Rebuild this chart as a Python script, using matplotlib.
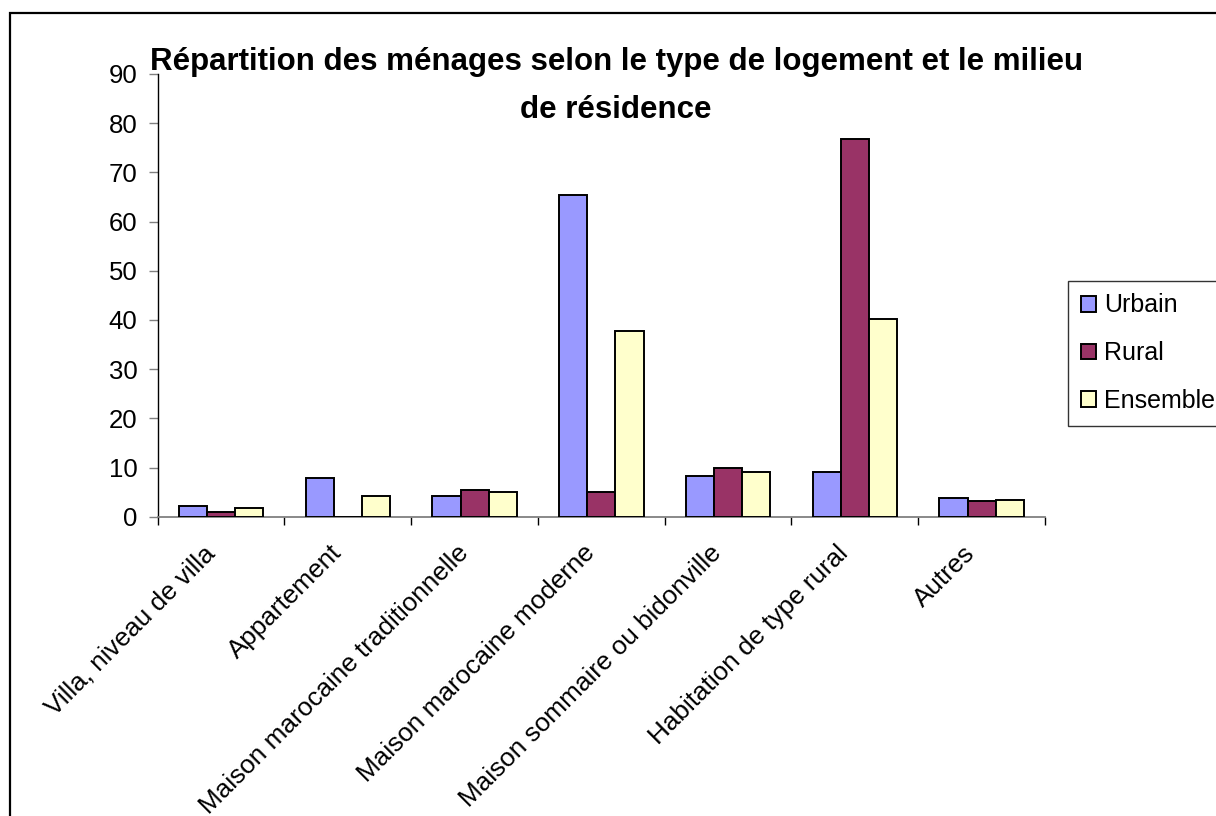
import matplotlib
matplotlib.use("Agg")
import matplotlib.pyplot as plt
import matplotlib.transforms as mtrans
import numpy as np
from matplotlib.patches import Rectangle

plt.rcParams['font.family'] = ['Liberation Sans', 'DejaVu Sans']

categories = ["Villa, niveau de villa", "Appartement", "Maison marocaine traditionnelle",
              "Maison marocaine moderne", "Maison sommaire ou bidonville",
              "Habitation de type rural", "Autres"]
urbain = [2.1, 7.8, 4.2, 65.4, 8.2, 9.1, 3.8]
rural = [1.0, 0.0, 5.4, 5.0, 9.9, 76.7, 3.1]
ensemble = [1.7, 4.2, 5.0, 37.7, 9.1, 40.2, 3.4]
series_names = ["Urbain", "Rural", "Ensemble"]
colors = ["#9999FF", "#993366", "#FFFFCC"]

W, H = 1216, 816
fig = plt.figure(figsize=(W / 100, H / 100), dpi=100)

# plot area in pixel coords (left, top, right, bottom)
l, t, r, b = 157.7, 73.9, 1045, 516.7
ax = fig.add_axes([l / W, 1 - b / H, (r - l) / W, (b - t) / H])

x = np.arange(len(categories))
w = 1 / 4.5
for i, (vals, name, c) in enumerate(zip([urbain, rural, ensemble], series_names, colors)):
    ax.bar(x + (i - 1) * w, vals, width=w, color=c, edgecolor="black",
           linewidth=1.4, label=name, zorder=3)

ax.set_xlim(-0.5, len(categories) - 0.5)
ax.set_ylim(0, 90)
ax.set_yticks(range(0, 91, 10))
ax.tick_params(axis="y", labelsize=18.5, length=6.5, width=1, color="#808080", pad=8)

# category boundary ticks, labels at centres
ax.set_xticks(np.arange(len(categories) + 1) - 0.5)
ax.set_xticklabels([])
ax.set_xticks(x, minor=True)
ax.set_xticklabels(categories, minor=True, rotation=45, ha="right", va="center",
                   rotation_mode="anchor", fontsize=18.8)
ax.tick_params(axis="x", which="major", length=6, width=1, color="black")
ax.tick_params(axis="x", which="minor", length=0, pad=23.5)
shift = mtrans.ScaledTranslation(-10 / 100, 0, fig.dpi_scale_trans)
for lab in ax.get_xticklabels(minor=True):
    lab.set_transform(lab.get_transform() + shift)

for s in ["top", "right"]:
    ax.spines[s].set_visible(False)
ax.spines["left"].set_color("black")
ax.spines["bottom"].set_color("#808080")
ax.spines["left"].set_linewidth(1)
ax.spines["bottom"].set_linewidth(1.3)

fig.text(616 / W, 1 - 62 / H, "Répartition des ménages selon le type de logement et le milieu",
         ha="center", va="center", fontsize=22.5, fontweight="bold")
fig.text(616 / W, 1 - 110 / H, "de résidence",
         ha="center", va="center", fontsize=22.5, fontweight="bold")

leg = fig.legend(loc="upper left", bbox_to_anchor=(1068 / W, 1 - 281 / H),
                 bbox_transform=fig.transFigure, fontsize=18, frameon=True,
                 fancybox=False, edgecolor="black", handlelength=0.6,
                 handleheight=0.6, handletextpad=0.35, labelspacing=0.95,
                 borderpad=0.5, borderaxespad=0)
leg.get_frame().set_linewidth(1)

# outer chart border
fig.patches.append(Rectangle((9.5 / W, -0.1), 1.2, 1 - 13 / H + 0.1,
                             transform=fig.transFigure, fill=False,
                             edgecolor="black", linewidth=1.6))

fig.savefig("out.png", dpi=100)
